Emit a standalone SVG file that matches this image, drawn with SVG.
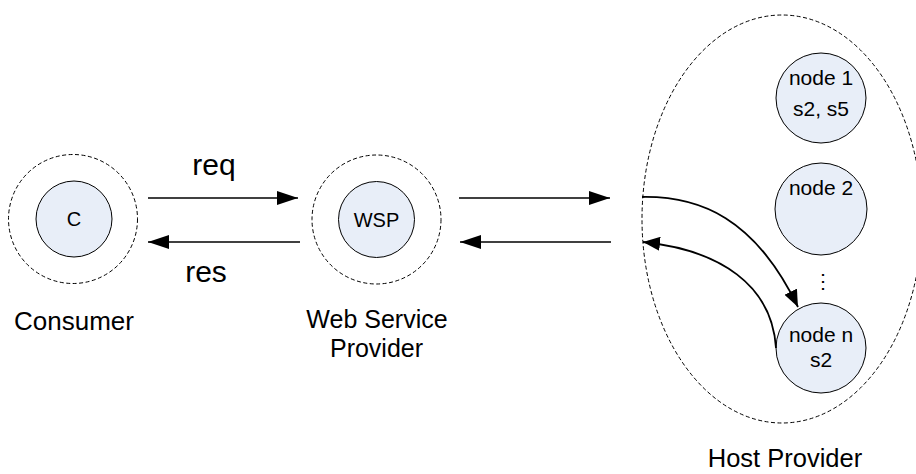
<svg xmlns="http://www.w3.org/2000/svg" width="916" height="474" viewBox="0 0 916 474">
<style>
.dash{fill:none;stroke:#000;stroke-width:1;stroke-dasharray:4 2.5}
.node{fill:#e8eef8;stroke:#000;stroke-width:1}
.t{font-family:"Liberation Sans",Arial,sans-serif;fill:#000;text-anchor:middle}
.c{fill:none;stroke:#000;stroke-width:1.3}
.cc{fill:none;stroke:#000;stroke-width:1.8}
</style>
<defs>
<marker id="ah" markerUnits="userSpaceOnUse" markerWidth="22" markerHeight="14" refX="21" refY="7" orient="auto">
<path d="M0,0 L21,7 L0,14 z" fill="#000"/>
</marker>
<marker id="ah2" markerUnits="userSpaceOnUse" markerWidth="18" markerHeight="14" refX="17" refY="7" orient="auto">
<path d="M0,0 L17,7 L0,14 z" fill="#000"/>
</marker>
</defs>
<g id="consumer">
<circle class="dash" cx="73" cy="219" r="64.5"/>
<circle class="node" cx="74" cy="219" r="38"/>
<text class="t" x="74" y="226" font-size="20">C</text>
<text class="t" x="74" y="330" font-size="26">Consumer</text>
</g>
<g id="wsp">
<circle class="dash" cx="376.5" cy="219.5" r="64.5"/>
<circle class="node" cx="376.5" cy="219.5" r="38"/>
<text class="t" x="376.5" y="226.5" font-size="20">WSP</text>
<text class="t" x="377" y="328" font-size="25">Web Service</text>
<text class="t" x="376.5" y="357" font-size="25">Provider</text>
</g>
<g id="host">
<ellipse class="dash" cx="782" cy="219" rx="140" ry="204"/>
<text class="t" x="785" y="467" font-size="25.5">Host Provider</text>
</g>
<g id="node1">
<circle class="node" cx="821" cy="98" r="45"/>
<text class="t" x="821" y="85" font-size="21">node 1</text>
<text class="t" x="821" y="116" font-size="21">s2, s5</text>
</g>
<g id="node2">
<circle class="node" cx="821" cy="209" r="46"/>
<text class="t" x="821" y="195" font-size="21">node 2</text>
</g>
<g id="dots">
<text class="t" x="823" y="288" font-size="20">⋮</text>
</g>
<g id="noden">
<circle class="node" cx="821" cy="348" r="45"/>
<text class="t" x="821" y="342" font-size="21">node n</text>
<text class="t" x="821" y="367" font-size="21">s2</text>
</g>
<g id="connectors">
<line class="c" x1="148" y1="198" x2="298" y2="198" marker-end="url(#ah)"/>
<line class="c" x1="300" y1="242" x2="148" y2="242" marker-end="url(#ah)"/>
<line class="c" x1="459" y1="198" x2="610" y2="198" marker-end="url(#ah)"/>
<line class="c" x1="611" y1="242" x2="460" y2="242" marker-end="url(#ah)"/>
<path class="cc" d="M642,197 C700,196 755,218 798,307" marker-end="url(#ah2)"/>
<path class="cc" d="M776,348 C772,285 720,250 643,242" marker-end="url(#ah2)"/>
<text class="t" x="214" y="175" font-size="30">req</text>
<text class="t" x="206" y="282" font-size="30">res</text>
</g>
</svg>
